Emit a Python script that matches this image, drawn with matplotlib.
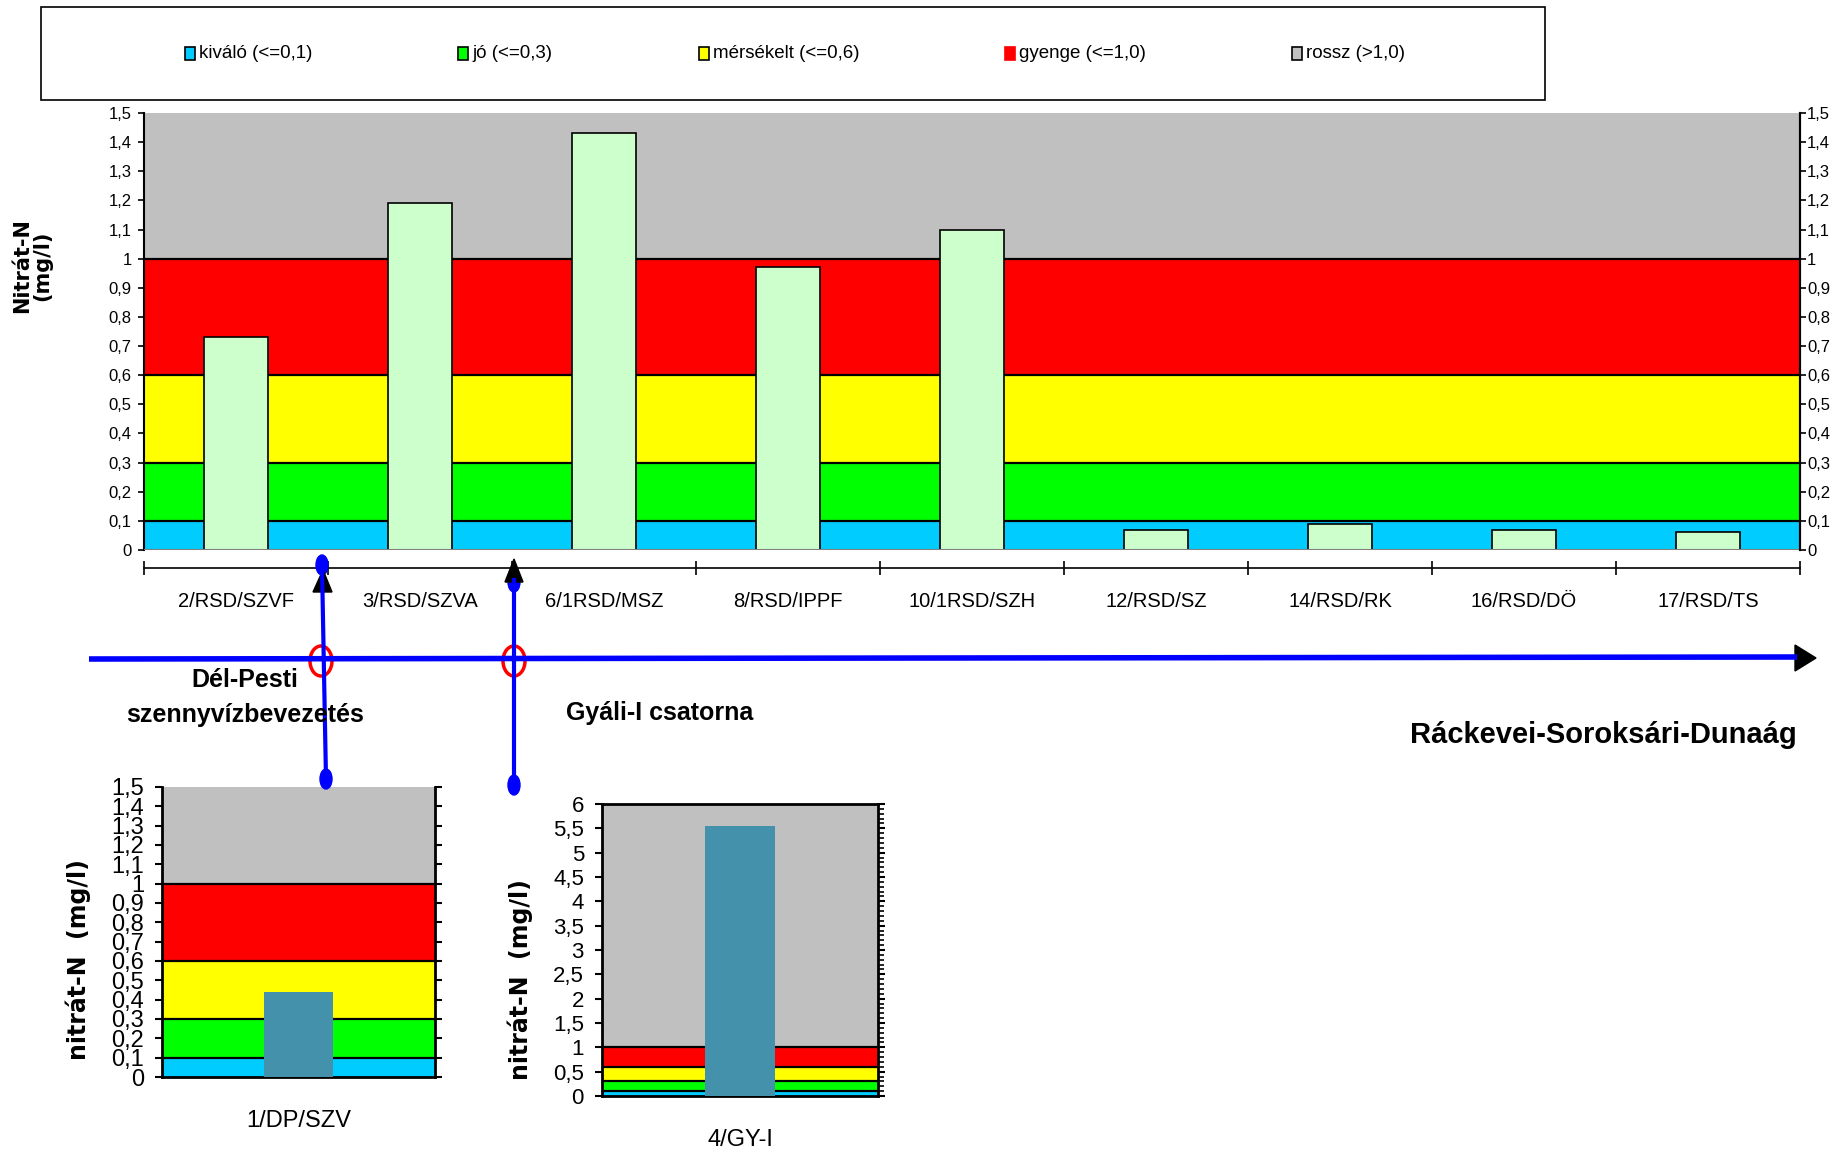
import numpy as np
import matplotlib as mpl
mpl.use('Agg')
import matplotlib.pyplot as plt
from matplotlib import font_manager
from matplotlib.patches import Ellipse, Polygon, Rectangle
from matplotlib.ticker import FuncFormatter, MultipleLocator

# river sampling sites (Ráckevei-Soroksári-Dunaág)
sites = ['2/RSD/SZVF', '3/RSD/SZVA', '6/1RSD/MSZ', '8/RSD/IPPF', '10/1RSD/SZH',
         '12/RSD/SZ', '14/RSD/RK', '16/RSD/DÖ', '17/RSD/TS']
nitrate = [0.73, 1.19, 1.43, 0.97, 1.10, 0.069, 0.090, 0.069, 0.061]

# inflows
inflow1_site = ['1/DP/SZV']
inflow1_val = [0.44]
inflow2_site = ['4/GY-I']
inflow2_val = [5.55]

# quality classes
class_limits = [0, 0.1, 0.3, 0.6, 1.0]
class_colors = ['#00CCFF', '#00FF00', '#FFFF00', '#FF0000', '#C0C0C0']
class_labels = ['kiváló (<=0,1)', 'jó (<=0,3)', 'mérsékelt (<=0,6)',
                'gyenge (<=1,0)', 'rossz (>1,0)']

names = {f.name for f in font_manager.fontManager.ttflist}
narrow = 'Liberation Sans Narrow' if 'Liberation Sans Narrow' in names else 'Liberation Sans'
plt.rcParams['font.family'] = [narrow, 'DejaVu Sans']

W, H = 1845, 1152
fig = plt.figure(figsize=(W / 100, H / 100), dpi=100)


def px_axes(l, t, r, b):
  return fig.add_axes([l / W, 1 - b / H, (r - l) / W, (b - t) / H])


def comma(v, pos):
  return ('%g' % round(v, 2)).replace('.', ',')


def draw_bands(ax, top):
  bounds = class_limits + [top]
  for lo, hi, c in zip(bounds[:-1], bounds[1:], class_colors):
    ax.axhspan(lo, hi, color=c, lw=0, zorder=0)
  for b in class_limits[1:]:
    ax.axhline(b, color='black', lw=1.6, zorder=1)


# main chart
ax = px_axes(144, 113, 1800, 550)
x = np.arange(len(sites))
draw_bands(ax, 1.5)
ax.bar(x, nitrate, width=0.35, color='#CCFFCC', edgecolor='black', lw=1.2, zorder=3)
ax.set_xlim(-0.5, len(sites) - 0.5)
ax.set_ylim(0, 1.5)
ax.axhline(0, color='#808080', lw=1.5, zorder=4)
ax.spines['top'].set_visible(False)
for s in ['left', 'right']:
  ax.spines[s].set_linewidth(1.5)
ax.spines['bottom'].set_position(('outward', 13))
ax.spines['bottom'].set_linewidth(1.2)
ax.set_xticks(np.arange(len(sites) + 1) - 0.5)
ax.set_xticklabels([])
ax.set_xticks(x, minor=True)
ax.set_xticklabels(sites, minor=True, fontsize=14.5)
ax.tick_params(axis='x', which='major', direction='inout', length=10, width=1.2)
ax.tick_params(axis='x', which='minor', length=0, pad=17)
yt = np.arange(0, 1.51, 0.1)
ax.set_yticks(yt)
ax.yaxis.set_major_formatter(FuncFormatter(comma))
ax.tick_params(axis='y', direction='out', length=4, width=1.2, pad=5, labelsize=12)

ax2 = ax.twinx()
ax2.set_ylim(0, 1.5)
ax2.set_yticks(yt)
ax2.yaxis.set_major_formatter(FuncFormatter(comma))
ax2.tick_params(axis='y', direction='out', length=4, width=1.2, pad=1, labelsize=12)
for s in ['top', 'bottom', 'left']:
  ax2.spines[s].set_visible(False)
ax2.spines['right'].set_linewidth(1.5)

# inflow 1
ai = px_axes(162, 787, 435, 1077)
draw_bands(ai, 1.5)
ai.bar([0], inflow1_val, width=0.256, color='#4391AB', zorder=3)
ai.set_xlim(-0.5, 0.5)
ai.set_ylim(0, 1.5)
ai.set_xticks([0])
ai.set_xticklabels(inflow1_site, fontsize=17)
ai.tick_params(axis='x', length=0, pad=24)
ai.set_yticks(yt)
ai.yaxis.set_major_formatter(FuncFormatter(comma))
ai.tick_params(axis='y', direction='out', length=5, width=1.5, pad=8, labelsize=17,
               left=True, right=True)
ai.spines['top'].set_visible(False)
for s in ['left', 'right', 'bottom']:
  ai.spines[s].set_linewidth(2)

# inflow 2
aj = px_axes(602, 804, 878, 1096)
draw_bands(aj, 6)
aj.bar([0], inflow2_val, width=0.254, color='#4391AB', zorder=3)
aj.set_xlim(-0.5, 0.5)
aj.set_ylim(0, 6)
aj.set_xticks([0])
aj.set_xticklabels(inflow2_site, fontsize=17)
aj.tick_params(axis='x', length=0, pad=24)
aj.yaxis.set_major_locator(MultipleLocator(0.5))
aj.yaxis.set_minor_locator(MultipleLocator(0.1))
aj.yaxis.set_major_formatter(FuncFormatter(comma))
aj.tick_params(axis='y', which='major', direction='out', length=5, width=1.5, pad=8,
               labelsize=16, left=True, right=True)
aj.tick_params(axis='y', which='minor', direction='out', length=4, width=1.2,
               left=False, right=True)
for s in ['left', 'right', 'bottom', 'top']:
  aj.spines[s].set_linewidth(2)

# overlay for legend, river and annotations (pixel coordinates)
ov = fig.add_axes([0, 0, 1, 1], zorder=10)
ov.set_xlim(0, W)
ov.set_ylim(H, 0)
ov.axis('off')

ov.add_patch(Rectangle((41, 7), 1504, 93, fill=False, ec='black', lw=1.2))
legend_x = [185, 458, 699, 1005, 1292]
for lx, c, lab in zip(legend_x, class_colors, class_labels):
  ec = c if c == '#FF0000' else 'black'
  ov.add_patch(Rectangle((lx, 47), 10, 13, fc=c, ec=ec, lw=1.2))
  ov.text(lx + 14, 54, lab, fontsize=13.5, va='center', ha='left')

# river
ov.plot([89, 1797], [659, 657], color='blue', lw=4, solid_capstyle='butt')
ov.add_patch(Polygon([(1795, 645), (1816, 658), (1795, 671)], color='black'))

# Dél-Pesti inflow
ov.plot([326, 322], [779, 566], color='blue', lw=3)
ov.add_patch(Ellipse((322, 565), 12, 20, color='blue'))
ov.add_patch(Ellipse((326, 779), 12, 20, color='blue'))
ov.add_patch(Polygon([(313, 592), (323, 570), (332, 592)], color='black'))
ov.add_patch(Ellipse((321, 661), 22, 30, fill=False, ec='red', lw=2.5))

# Gyáli-I inflow
ov.plot([514, 514], [785, 580], color='blue', lw=3)
ov.add_patch(Ellipse((514, 785), 12, 20, color='blue'))
ov.add_patch(Ellipse((514, 582), 12, 20, color='blue'))
ov.add_patch(Polygon([(505, 582), (514, 559), (523, 582)], color='black'))
ov.add_patch(Ellipse((514, 661), 22, 30, fill=False, ec='red', lw=2.5))

ov.text(245, 680, 'Dél-Pesti', fontsize=18, fontweight='bold', ha='center', va='center')
ov.text(245, 715, 'szennyvízbevezetés', fontsize=18, fontweight='bold', ha='center', va='center')
ov.text(660, 713, 'Gyáli-I csatorna', fontsize=18, fontweight='bold', ha='center', va='center')
ov.text(1797, 735, 'Ráckevei-Soroksári-Dunaág', fontsize=21, fontweight='bold',
        ha='right', va='center')

ov.text(32, 266, 'Nitrát-N\n(mg/l)', fontsize=15, fontweight='bold', rotation=90,
        ha='center', va='center', linespacing=1.0, family='DejaVu Sans')
ov.text(78, 960, 'nitrát-N  (mg/l)', fontsize=17, fontweight='bold', rotation=90,
        ha='center', va='center', family='DejaVu Sans')
ov.text(520, 980, 'nitrát-N  (mg/l)', fontsize=17, fontweight='bold', rotation=90,
        ha='center', va='center', family='DejaVu Sans')

fig.savefig('out.png', dpi=100)
